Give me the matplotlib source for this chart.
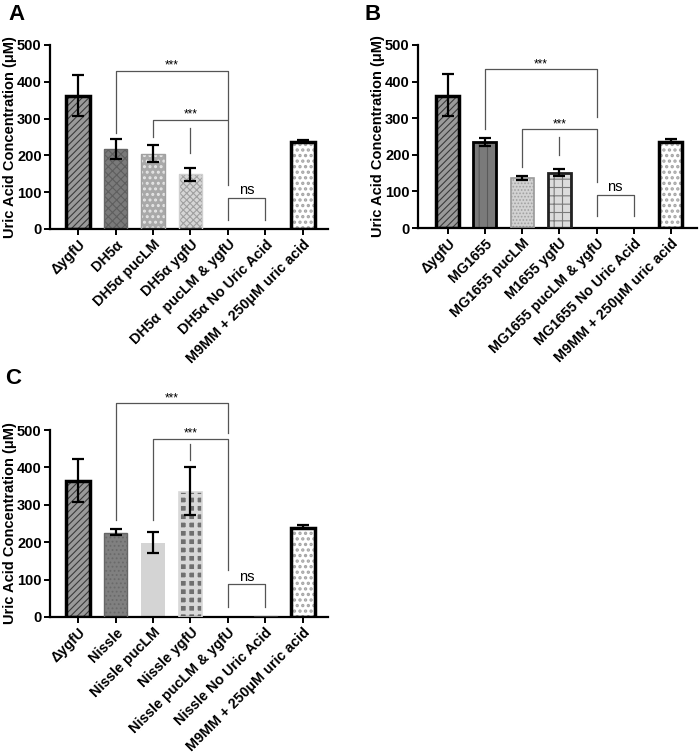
import matplotlib
matplotlib.use('Agg')
import matplotlib.pyplot as plt

plt.rcParams['font.family'] = ['Liberation Sans', 'DejaVu Sans']
plt.rcParams['hatch.linewidth'] = 0.8

# ---------------- data ----------------
labels_A = ['ΔygfU', 'DH5α', 'DH5α pucLM', 'DH5α ygfU', 'DH5α  pucLM & ygfU',
            'DH5α No Uric Acid', 'M9MM + 250μM uric acid']
values_A = [362, 218, 205, 149, 0, 0, 236]
err_lo_A = [56, 27, 23, 18, 0, 0, 0]
err_hi_A = [57, 27, 23, 18, 0, 0, 7]

labels_B = ['ΔygfU', 'MG1655', 'MG1655 pucLM', 'M1655 ygfU', 'MG1655 pucLM & ygfU',
            'MG1655 No Uric Acid', 'M9MM + 250μM uric acid']
values_B = [361, 234, 137, 151, 0, 0, 236]
err_lo_B = [54, 11, 6, 9, 0, 0, 0]
err_hi_B = [59, 12, 6, 9, 0, 0, 8]

labels_C = ['ΔygfU', 'Nissle', 'Nissle pucLM', 'Nissle ygfU', 'Nissle pucLM & ygfU',
            'Nissle No Uric Acid', 'M9MM + 250μM uric acid']
values_C = [364, 225, 199, 335, 0, 2, 238]
err_lo_C = [56, 7, 27, 63, 0, 0, 0]
err_hi_C = [58, 10, 28, 65, 0, 0, 7]

yticks = [0, 100, 200, 300, 400, 500]

# significance brackets: (x1, x2, y, left-leg bottom, right-leg bottom, label)
brackets_A = [(1, 4, 430, 260, 300, '***'), (2, 4, 297, 251, 120, '***'), (4, 5, 84, 25, 25, 'ns')]
brackets_B = [(1, 4, 434, 270, 304, '***'), (2, 4, 270, 167, 126, '***'), (4, 5, 91, 32, 32, 'ns')]
brackets_C = [(1, 4, 571, 259, 493, '***'), (2, 4, 477, 259, 125, '***'), (4, 5, 87, 27, 27, 'ns')]
# extra short comparison tick: (x, y_top, y_bottom)
ticks_A = (3, 274, 206)
ticks_B = (3, 249, 199)
ticks_C = (3, 463, 420)

# ---------------- styles ----------------
BLK = 'black'
style_dygfU = dict(face='#9a9a9a', hatch='/////', hcol='#3a3a3a', edge=BLK, lw=2.5)
style_m9 = dict(face='white', hatch='...', hcol='#a4a4a4', edge=BLK, lw=2.5, hlw=1.6)
style_none = dict(face='white', hatch=None, hcol='white', edge='white', lw=0)
styles_A = [style_dygfU,
            dict(face='#7a7a7a', hatch='xxxx', hcol='#5e5e5e', edge='#666666', lw=1.0),
            dict(face='#a9a9a9', hatch='...', hcol='#e6e6e6', edge='#a0a0a0', lw=1.0, hlw=1.4),
            dict(face='#d6d6d6', hatch='xxxxx', hcol='#a0a0a0', edge='#cfcfcf', lw=1.0),
            style_none, style_none, style_m9]
styles_B = [style_dygfU,
            dict(face='#7a7a7a', hatch='||', hcol='#5a5a5a', edge=BLK, lw=2.0),
            dict(face='#d2d2d2', hatch='.....', hcol='#a0a0a0', edge='#9a9a9a', lw=1.2),
            dict(face='#dcdcdc', hatch='++', hcol='#7a7a7a', edge='#222222', lw=2.0),
            style_none, style_none, style_m9]
styles_C = [style_dygfU,
            dict(face='#808080', hatch='....', hcol='#6a6a6a', edge='#666666', lw=1.0),
            dict(face='#d4d4d4', hatch=None, hcol='#d4d4d4', edge='#d4d4d4', lw=0),
            dict(face='#707070', hatch='++', hcol='#d8d8d8', edge='#d8d8d8', lw=1.2, hlw=2.6),
            style_none,
            dict(face='#555555', hatch=None, hcol='#555555', edge='#333333', lw=0.8),
            style_m9]

W, H = 699, 755
fig = plt.figure(figsize=(W / 100, H / 100), dpi=100)


def px_axes(left, top, right, bottom):
    return fig.add_axes([left / W, 1 - bottom / H, (right - left) / W, (bottom - top) / H])


def draw(ax, labels, values, lo, hi, styles, brackets, tick, xlim):
    x = list(range(len(values)))
    for xi, v, st in zip(x, values, styles):
        hlw = st.get('hlw', 0.8)
        with plt.rc_context({'hatch.linewidth': hlw}):
            bars = ax.bar(xi, v, width=0.62, color=st['face'], edgecolor=st['hcol'],
                          linewidth=0, hatch=st['hatch'], zorder=2)
        for b in bars:
            if hasattr(b, 'set_hatch_linewidth'):
                b.set_hatch_linewidth(hlw)
        if st['lw'] > 0:
            ax.bar(xi, v, width=0.62, fill=False, edgecolor=st['edge'],
                   linewidth=st['lw'], zorder=3)
    idx = [i for i in x if lo[i] > 0 or hi[i] > 0]
    ax.errorbar([x[i] for i in idx], [values[i] for i in idx],
                yerr=[[lo[i] for i in idx], [hi[i] for i in idx]], fmt='none',
                ecolor='black', elinewidth=1.6, capsize=4.5, capthick=1.6, zorder=4)
    for (x1, x2, y, b1, b2, lab) in brackets:
        ax.plot([x1, x1, x2, x2], [b1, y, y, b2], color='#555555', lw=0.9,
                clip_on=False, zorder=5)
        if lab == 'ns':
            ax.text((x1 + x2) / 2, y + 21, lab, ha='center', va='center',
                    fontsize=10.5, clip_on=False)
        else:
            ax.text((x1 + x2) / 2, y + 14, lab, ha='center', va='center',
                    fontsize=8.5, clip_on=False)
    ax.plot([tick[0], tick[0]], [tick[1], tick[2]], color='#555555', lw=0.9,
            clip_on=False, zorder=5)
    ax.set_xlim(*xlim)
    ax.set_ylim(0, 500)
    ax.set_yticks(yticks)
    ax.set_yticklabels([str(t) for t in yticks], fontweight='bold', fontsize=10.5)
    ax.set_xticks(x)
    ax.set_xticklabels(labels, rotation=45, ha='right', rotation_mode='anchor',
                       fontweight='bold', fontsize=10.3)
    ax.spines['top'].set_visible(False)
    ax.spines['right'].set_visible(False)
    for s in ('left', 'bottom'):
        ax.spines[s].set_linewidth(1.6)
    ax.tick_params(axis='both', width=1.4, length=4, pad=2)
    ax.set_ylabel('Uric Acid Concentration (μM)', fontweight='bold', fontsize=10.5)
    ax.yaxis.set_label_coords(-0.12, 0.5)


axA = px_axes(50, 45, 328, 229)
draw(axA, labels_A, values_A, err_lo_A, err_hi_A, styles_A, brackets_A, ticks_A, (-0.75, 6.67))
axB = px_axes(418, 45, 697, 228)
draw(axB, labels_B, values_B, err_lo_B, err_hi_B, styles_B, brackets_B, ticks_B, (-0.8, 6.7))
axC = px_axes(50, 430, 328, 617)
draw(axC, labels_C, values_C, err_lo_C, err_hi_C, styles_C, brackets_C, ticks_C, (-0.75, 6.67))

fig.text(8 / W, 1 - 15 / H, 'A', fontsize=16, fontweight='bold', va='center', ha='left')
fig.text(365 / W, 1 - 15 / H, 'B', fontsize=16, fontweight='bold', va='center', ha='left')
fig.text(5 / W, 1 - 378 / H, 'C', fontsize=16, fontweight='bold', va='center', ha='left')

fig.savefig('out.png', dpi=100)
